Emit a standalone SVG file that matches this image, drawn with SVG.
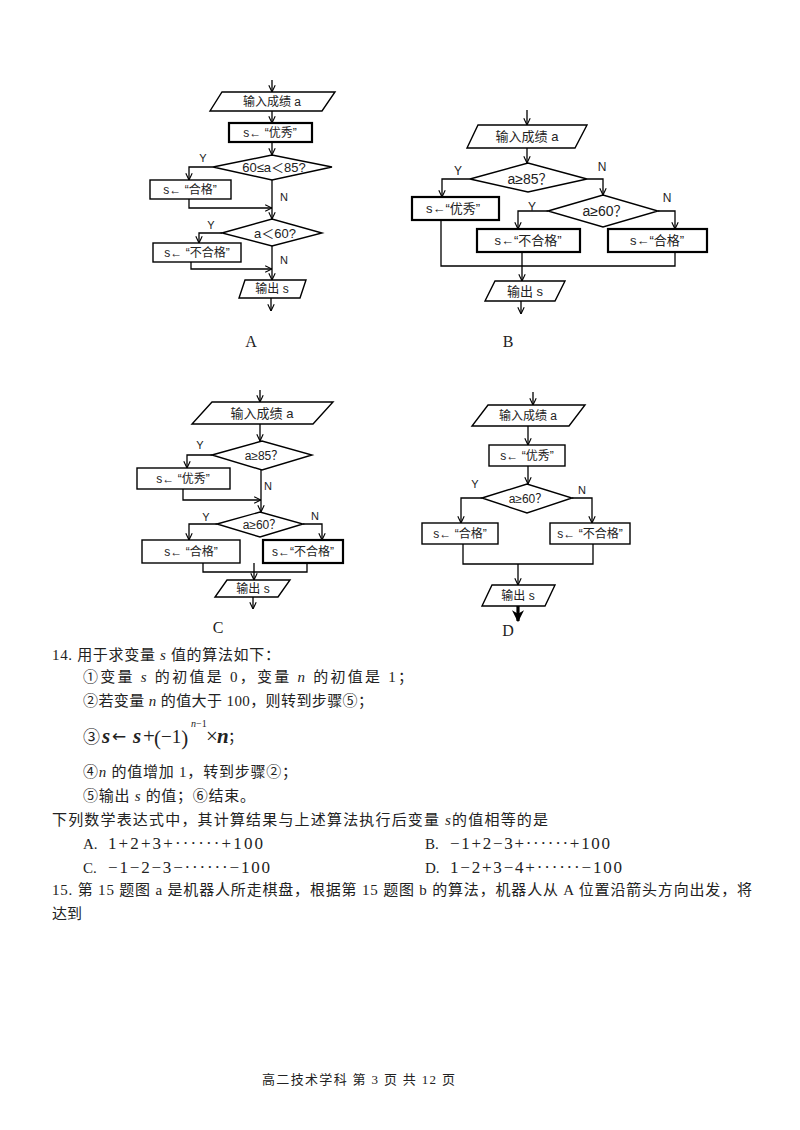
<svg xmlns="http://www.w3.org/2000/svg" width="800" height="1130" viewBox="0 0 800 1130">
<defs>
<marker id="arr" viewBox="0 0 10 10" refX="9.5" refY="5" markerWidth="8" markerHeight="8" orient="auto" markerUnits="userSpaceOnUse">
<path d="M1,1 L9.5,5 L1,9" fill="none" stroke="#000" stroke-width="1.4"/>
</marker>
<marker id="thick" viewBox="0 0 10 10" refX="9" refY="5" markerWidth="12" markerHeight="12" orient="auto" markerUnits="userSpaceOnUse">
<path d="M0,0 L10,5 L0,10 L3,5 Z" fill="#000"/>
</marker>
<style>
.sh{fill:#fff;stroke:#000;stroke-width:1.4}
.bd{stroke-width:2.2}
.c{fill:none;stroke:#000;stroke-width:1.3}
.a{marker-end:url(#arr)}
.ft{font-family:"Liberation Sans","Noto Sans CJK SC",sans-serif;font-size:12px;fill:#222;text-anchor:middle}
.lb{font-family:"Liberation Sans",sans-serif;font-size:11px;fill:#222;text-anchor:middle}
.cap{font-family:"Liberation Serif",serif;font-size:16px;fill:#222;text-anchor:middle}
.tx{font-family:"Liberation Serif","Noto Sans CJK SC",serif;font-size:15px;fill:#222}
.fm{font-family:"Liberation Serif",serif;font-size:17px;fill:#222}
.mth{font-family:"Liberation Serif",serif;font-size:21px;fill:#222}
.it{font-style:italic}
</style>
</defs>

<!-- ===== Flowchart A ===== -->
<g id="A-in"><polygon class="sh" points="222,92 335,92 322,111 210,111"/><text class="ft" x="272" y="106">输入成绩 a</text></g>
<g id="A-you"><rect class="sh bd" x="229" y="123" width="83" height="19"/><text class="ft" x="270" y="137">s← “优秀”</text></g>
<g id="A-d1"><polygon class="sh" points="213,167 272,155 332,167 272,180"/><text class="ft" x="274" y="172" style="font-size:13px">60≤a＜85?</text></g>
<g id="A-he"><rect class="sh" x="150" y="180" width="81" height="19"/><text class="ft" x="190" y="194">s← “合格”</text></g>
<g id="A-d2"><polygon class="sh" points="222,233 272,219 322,233 272,246"/><text class="ft" x="275" y="238" style="font-size:13px">a＜60?</text></g>
<g id="A-bu"><rect class="sh" x="153" y="243" width="88" height="19"/><text class="ft" x="197" y="257">s← “不合格”</text></g>
<g id="A-out"><polygon class="sh" points="245,280 306,280 300,298 239,298"/><text class="ft" x="272" y="293">输出 s</text></g>
<text class="cap" x="251" y="347">A</text>

<!-- ===== Flowchart B ===== -->
<g id="B-in"><polygon class="sh" points="478,125 587,125 575,148 467,148"/><text class="ft" x="527" y="141" style="font-size:13px">输入成绩 a</text></g>
<g id="B-d1"><polygon class="sh" points="470,179 528,163 587,179 528,192"/><text class="ft" x="530" y="184" style="font-size:14px">a≥85？</text></g>
<g id="B-you"><rect class="sh bd" x="412" y="197" width="87" height="23"/><text class="ft" x="453" y="213" style="font-size:13px">s←“优秀”</text></g>
<g id="B-d2"><polygon class="sh" points="548,211 603,195 658,211 603,227"/><text class="ft" x="605" y="216" style="font-size:14px">a≥60？</text></g>
<g id="B-bu"><rect class="sh bd" x="477" y="229" width="103" height="23"/><text class="ft" x="528" y="245" style="font-size:13px">s←“不合格”</text></g>
<g id="B-he"><rect class="sh bd" x="608" y="229" width="99" height="23"/><text class="ft" x="657" y="245" style="font-size:13px">s←“合格”</text></g>
<g id="B-out"><polygon class="sh" points="495,281 565,281 555,301 485,301"/><text class="ft" x="525" y="296" style="font-size:13px">输出 s</text></g>
<text class="cap" x="508" y="347">B</text>

<!-- ===== Flowchart C ===== -->
<g id="C-in"><polygon class="sh" points="212,402 333,402 313,424 192,424"/><text class="ft" x="262" y="418" style="font-size:13px">输入成绩 a</text></g>
<g id="C-d1"><polygon class="sh" points="212,455 262,441 312,455 262,470"/><text class="ft" x="264" y="460">a≥85？</text></g>
<g id="C-you"><rect class="sh" x="137" y="468" width="93" height="21"/><text class="ft" x="183" y="483">s← “优秀”</text></g>
<g id="C-d2"><polygon class="sh" points="217,524 260,512 303,524 260,537"/><text class="ft" x="262" y="529">a≥60？</text></g>
<g id="C-he"><rect class="sh" x="142" y="540" width="98" height="23"/><text class="ft" x="191" y="556">s← “合格”</text></g>
<g id="C-bu"><rect class="sh bd" x="263" y="540" width="80" height="23"/><text class="ft" x="303" y="556">s←“不合格”</text></g>
<g id="C-out"><polygon class="sh" points="227,580 290,580 278,597 215,597"/><text class="ft" x="253" y="593">输出 s</text></g>
<text class="cap" x="218" y="633">C</text>

<!-- ===== Flowchart D ===== -->
<g id="D-in"><polygon class="sh" points="488,405 585,405 569,426 472,426"/><text class="ft" x="528" y="420">输入成绩 a</text></g>
<g id="D-you"><rect class="sh" x="489" y="445" width="76" height="21"/><text class="ft" x="527" y="460">s← “优秀”</text></g>
<g id="D-d"><polygon class="sh" points="482,498 527,484 572,498 527,513"/><text class="ft" x="528" y="503">a≥60？</text></g>
<g id="D-he"><rect class="sh" x="422" y="523" width="76" height="21"/><text class="ft" x="460" y="538">s← “合格”</text></g>
<g id="D-bu"><rect class="sh" x="550" y="523" width="80" height="21"/><text class="ft" x="590" y="538">s← “不合格”</text></g>
<g id="D-out"><polygon class="sh" points="492,585 555,585 545,606 482,606"/><text class="ft" x="518" y="600">输出 s</text></g>
<text class="cap" x="508" y="636">D</text>

<!-- ===== Connectors ===== -->
<g id="connectors">
<!-- A -->
<path class="c a" d="M272,80 V92"/>
<path class="c a" d="M272,111 V123"/>
<path class="c a" d="M272,142 V155"/>
<path class="c a" d="M213,167 H189 V180"/>
<path class="c a" d="M189,199 V208 H272"/>
<path class="c a" d="M272,180 V219"/>
<path class="c a" d="M222,233 H199 V243"/>
<path class="c a" d="M191,262 V269 H272"/>
<path class="c a" d="M272,246 V280"/>
<path class="c a" d="M271,298 V311"/>
<text class="lb" x="203" y="162">Y</text>
<text class="lb" x="284" y="201">N</text>
<text class="lb" x="211" y="229">Y</text>
<text class="lb" x="284" y="264">N</text>
<!-- B -->
<path class="c a" d="M527,110 V125"/>
<path class="c a" d="M527,148 V163"/>
<path class="c a" d="M470,179 H442 V197"/>
<path class="c a" d="M587,179 H603 V195"/>
<path class="c a" d="M548,211 H518 V229"/>
<path class="c a" d="M658,211 H675 V229"/>
<path class="c" d="M441,220 V266 H675 V252"/>
<path class="c a" d="M522,252 V281"/>
<path class="c a" d="M521,301 V314"/>
<text class="lb" x="458" y="175" style="font-size:12px">Y</text>
<text class="lb" x="602" y="171" style="font-size:12px">N</text>
<text class="lb" x="532" y="211" style="font-size:12px">Y</text>
<text class="lb" x="667" y="202" style="font-size:12px">N</text>
<!-- C -->
<path class="c a" d="M260,390 V402"/>
<path class="c a" d="M260,424 V441"/>
<path class="c a" d="M212,455 H187 V468"/>
<path class="c a" d="M183,489 V500 H261"/>
<path class="c a" d="M261,470 V512"/>
<path class="c a" d="M217,524 H189 V540"/>
<path class="c a" d="M303,524 H322 V540"/>
<path class="c" d="M203,563 V572 H307 V563"/>
<path class="c a" d="M254,563 V580"/>
<path class="c a" d="M253,597 V609"/>
<text class="lb" x="200" y="449">Y</text>
<text class="lb" x="268" y="490">N</text>
<text class="lb" x="206" y="521">Y</text>
<text class="lb" x="315" y="520">N</text>
<!-- D -->
<path class="c a" d="M533,392 V405"/>
<path class="c a" d="M528,426 V445"/>
<path class="c a" d="M528,466 V484"/>
<path class="c a" d="M482,498 H461 V523"/>
<path class="c a" d="M572,498 H592 V523"/>
<path class="c" d="M463,544 V564 H593 V544"/>
<path class="c a" d="M518,564 V585"/>
<path d="M518,606 V621" fill="none" stroke="#000" stroke-width="3.2" marker-end="url(#thick)"/>
<text class="lb" x="475" y="488">Y</text>
<text class="lb" x="582" y="494">N</text>
</g>

<!-- ===== Question text ===== -->
<g id="q14">
<text class="tx" x="52" y="660" textLength="228" lengthAdjust="spacing">14. 用于求变量 <tspan class="it">s</tspan> 值的算法如下：</text>
<text class="tx" x="83" y="682" textLength="330" lengthAdjust="spacing">①变量 <tspan class="it">s</tspan> 的初值是 0，变量 <tspan class="it">n</tspan> 的初值是 1；</text>
<text class="tx" x="83" y="706" textLength="290" lengthAdjust="spacing">②若变量 <tspan class="it">n</tspan> 的值大于 100，则转到步骤⑤；</text>
<text class="tx" x="83" y="743" style="font-size:17px">③</text>
<text class="mth it" x="102" y="743" font-weight="bold">s</text>
<text x="112" y="742" style="font-family:'DejaVu Sans',sans-serif;font-size:17px;fill:#222">←</text>
<text class="mth it" x="133" y="743" font-weight="bold">s</text>
<text class="mth" x="143" y="743" font-size="19">+</text>
<text class="mth" x="154" y="745" font-size="24">(<tspan font-size="19" dy="-2">−1</tspan><tspan dy="2">)</tspan></text>
<text x="191" y="727" style="font-family:'Liberation Serif',serif;font-size:10px;font-style:italic;fill:#222">n<tspan font-style="normal">−1</tspan></text>
<text class="mth" x="206" y="743" font-size="19">×</text>
<text class="mth it" x="217" y="743" font-weight="bold">n</text>
<text class="tx" x="228" y="742">；</text>
<text class="tx" x="83" y="777" textLength="214" lengthAdjust="spacing">④<tspan class="it">n</tspan> 的值增加 1，转到步骤②；</text>
<text class="tx" x="83" y="801" textLength="172" lengthAdjust="spacing">⑤输出 <tspan class="it">s</tspan> 的值；⑥结束。</text>
<text class="tx" x="52" y="825" textLength="496" lengthAdjust="spacing">下列数学表达式中，其计算结果与上述算法执行后变量 <tspan class="it">s</tspan>的值相等的是</text>
<text class="tx" x="83" y="849" font-size="13">A.</text>
<text class="fm" x="108" y="849" textLength="155" lengthAdjust="spacing">1+2+3+······+100</text>
<text class="tx" x="425" y="849" font-size="13">B.</text>
<text class="fm" x="450" y="849" textLength="160" lengthAdjust="spacing">−1+2−3+······+100</text>
<text class="tx" x="83" y="873" font-size="13">C.</text>
<text class="fm" x="108" y="873" textLength="162" lengthAdjust="spacing">−1−2−3−······−100</text>
<text class="tx" x="425" y="873" font-size="13">D.</text>
<text class="fm" x="450" y="873" textLength="172" lengthAdjust="spacing">1−2+3−4+······−100</text>
</g>
<g id="q15">
<text class="tx" x="52" y="895" textLength="700" lengthAdjust="spacing">15. 第 15 题图 a 是机器人所走棋盘，根据第 15 题图 b 的算法，机器人从 A 位置沿箭头方向出发，将</text>
<text class="tx" x="52" y="919">达到</text>
</g>
<text class="tx" x="262" y="1084" style="font-size:13px" textLength="193" lengthAdjust="spacing">高二技术学科 第 3 页 共 12 页</text>
</svg>
